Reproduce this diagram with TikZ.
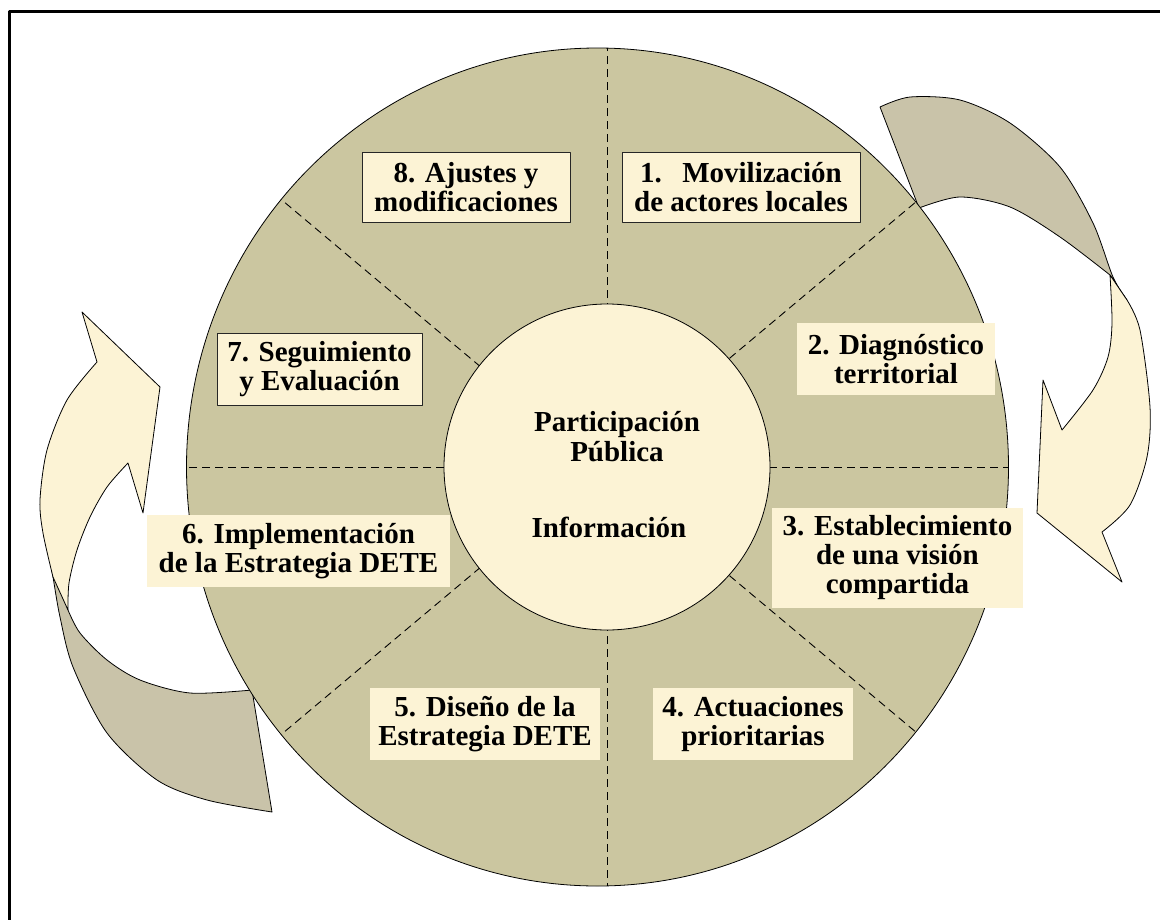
\documentclass[tikz,border=0pt]{standalone}
\usepackage{fontspec}
\setmainfont{Liberation Serif}
\definecolor{khaki}{RGB}{203,198,160}
\definecolor{cream}{RGB}{252,243,213}
\definecolor{backgray}{RGB}{201,195,169}
\begin{document}
\begin{tikzpicture}[x=1pt,y=-1pt,line join=round,
  lbl/.style={font=\bfseries\fontsize{29}{29}\selectfont,align=center,inner sep=0pt,fill=cream},
  framed/.style={draw=black!85,line width=0.8pt},
  divider/.style={dash pattern=on 8pt off 5pt,line width=0.9pt},
  arrowback/.style={fill=backgray,draw=black,line width=0.8pt},
  arrowfront/.style={fill=cream,draw=black,line width=0.8pt},
  ctext/.style={font=\bfseries\fontsize{29}{30}\selectfont,align=center,inner sep=0pt}]
\useasboundingbox (0,0) rectangle (1160,919);
% frame
\draw[line width=3pt] (9,925) -- (9,11) -- (1166,11);
% left arrow
\path[arrowback] plot[smooth] coordinates {(50,560) (53,577) (60,617) (73,667) (107,733) (157,780) (207,800) (272,812)}
  -- (252,690) -- plot[smooth] coordinates {(252,690) (190,693) (140,680) (107,660) (80,633) (68,610)} -- cycle;
\path[arrowfront] (82,312) -- (160,387) -- (143,513) -- (128,463)
  -- plot[smooth] coordinates {(128,463) (107,487) (90,517) (77,550) (69,583) (68,610)}
  -- (53,577) -- plot[smooth] coordinates {(53,577) (43,533) (40,500) (47,450) (67,400) (97,362)} -- cycle;
% right arrow
\path[arrowback] plot[smooth] coordinates {(880,107) (910,97) (960,100) (1010,123) (1060,167) (1093,223) (1113,277) (1127,300)}
  -- (1110,275) -- plot[smooth] coordinates {(1110,275) (1060,237) (1010,207) (960,197) (919,208)} -- cycle;
\path[arrowfront] (1110,275) -- (1127,300)
  -- plot[smooth] coordinates {(1127,300) (1140,330) (1150,407) (1147,457) (1130,505) (1102,532)}
  -- (1122,582) -- (1037,513) -- (1043,380) -- (1062,430)
  -- plot[smooth] coordinates {(1062,430) (1093,390) (1108,357) (1112,323) (1110,275)} -- cycle;
% big disc
\draw[fill=khaki,line width=0.8pt] (597.5,467) ellipse [x radius=411,y radius=419];
\begin{scope}
  \clip (597.5,467) ellipse [x radius=411,y radius=419];
  \draw[divider] (607,467) -- (607,0);
  \draw[divider] (607,467) -- (607,930);
  \draw[divider] (600,467) -- (0,467);
  \draw[divider] (600,467) -- (1100,467);
  \draw[divider] (600,467) -- ++(40:600);
  \draw[divider] (600,467) -- ++(140:600);
  \draw[divider] (600,467) -- ++(220:600);
  \draw[divider] (600,467) -- ++(320:600);
\end{scope}
\node[circle,draw,fill=cream,line width=0.8pt,minimum size=326pt,inner sep=0pt] (hub) at (607,467) {};
\node[ctext] (part) at (617,437) {Participación\\Pública};
\node[ctext] (info) at (609,527) {Información};
% labels
\node[lbl,framed,minimum width=208pt,minimum height=70pt] (s8) at (466,187) {8. Ajustes y\\modificaciones};
\node[lbl,framed,minimum width=238pt,minimum height=70pt] (s1) at (741,187) {1.\hspace{0.7em}Movilización\\de actores locales};
\node[lbl,minimum width=198pt,minimum height=72pt] (s2) at (896,359) {2. Diagnóstico\\territorial};
\node[lbl,minimum width=251pt,minimum height=100pt] (s3) at (897.5,558) {3. Establecimiento\\de una visión\\compartida};
\node[lbl,minimum width=200pt,minimum height=72pt] (s4) at (753,724) {4. Actuaciones\\prioritarias};
\node[lbl,minimum width=230pt,minimum height=72pt] (s5) at (485,724) {5. Diseño de la\\Estrategia DETE};
\node[lbl,minimum width=303pt,minimum height=72pt] (s6) at (298.5,551) {6. Implementación\\de la Estrategia DETE};
\node[lbl,framed,minimum width=205pt,minimum height=72pt] (s7) at (319.5,369) {7. Seguimiento\\y Evaluación};
\end{tikzpicture}
\end{document}
